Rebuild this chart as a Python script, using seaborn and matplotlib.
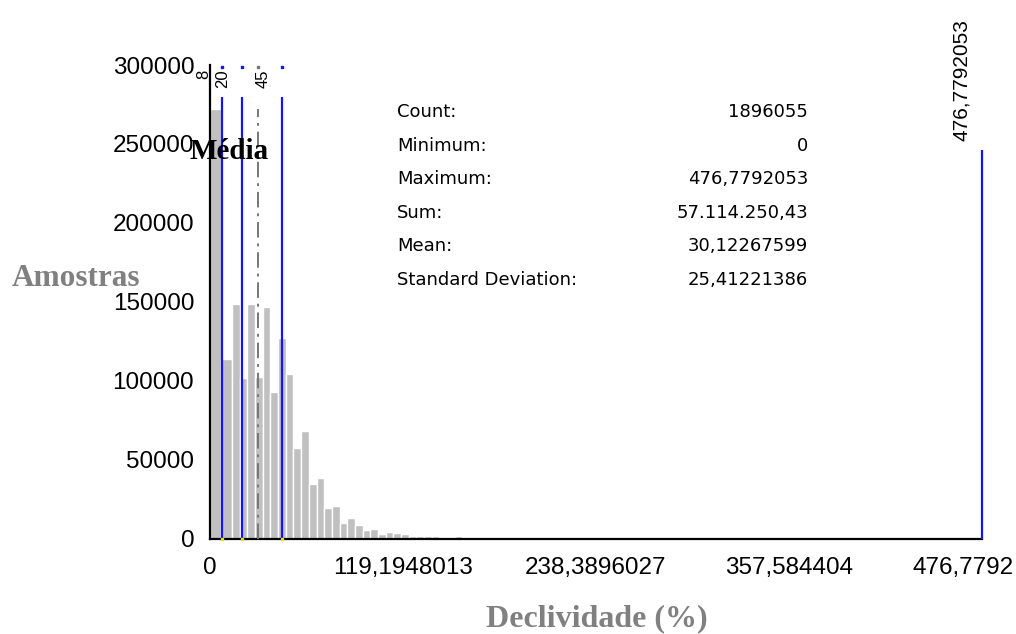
import numpy as np
import pandas as pd
import seaborn as sns
import matplotlib
matplotlib.use("Agg")
import matplotlib.pyplot as plt
from matplotlib.transforms import ScaledTranslation

# ---- histogram of slope values (Declividade, %) ----
# first two classes are wider, the rest use a constant class width
first_edges = [0.0, 7.0, 13.9]
class_width = 4.74
n_uniform = 30
counts = [272000, 113500, 148500, 101500, 148500, 102500, 147000, 93000,
          127000, 104000, 57500, 68300, 34600, 38600, 19600, 20800,
          9900, 13000, 8400, 5200, 5900, 2900, 4400, 3400,
          2900, 1600, 1600, 1900, 1900, 1300, 600, 1600]

# ---- reference lines ----
class_breaks = [8, 20, 45]
class_labels = ["8", "20", "45"]
mean_value = 30.12267599
max_value = 476.7792053
max_label = "476,7792053"

# ---- axis ticks ----
xtick_values = [0, 119.1948013, 238.3896027, 357.584404, 476.7792053]
xtick_labels = ["0", "119,1948013", "238,3896027", "357,584404", "476,7792"]
ytick_values = [0, 50000, 100000, 150000, 200000, 250000, 300000]
ytick_labels = ["0", "50000", "100000", "150000", "200000", "250000", "300000"]

# ---- statistics panel ----
stat_names = ["Count:", "Minimum:", "Maximum:", "Sum:", "Mean:", "Standard Deviation:"]
stat_values = ["1896055", "0", "476,7792053", "57.114.250,43", "30,12267599", "25,41221386"]

edges = first_edges + [first_edges[-1] + class_width * k for k in range(1, n_uniform + 1)]
centers = [(a + b) / 2 for a, b in zip(edges[:-1], edges[1:])]
df = pd.DataFrame({"declividade": centers, "amostras": counts})

sns.set_theme(style="white")
plt.rcParams["font.family"] = ["Liberation Sans", "DejaVu Sans"]

W, H = 1016, 634
fig = plt.figure(figsize=(W / 100, H / 100), dpi=100)
x0, x1, y0, y1 = 209.5, 982.0, 538.6, 65.0
ax = fig.add_axes([x0 / W, 1 - y0 / H, (x1 - x0) / W, (y0 - y1) / H])

sns.histplot(data=df, x="declividade", weights="amostras", bins=edges,
             color="#c0c0c0", edgecolor="white", linewidth=1.0, alpha=1.0, ax=ax)

ax.set_xlim(0, max_value)
ax.set_ylim(0, 300000)

# class break lines (blue), mean (grey dash-dot), maximum (blue)
ax.vlines(class_breaks, 0, 280000, colors="#1414ff", linewidth=1.6, zorder=3)
ax.plot([mean_value, mean_value], [0, 272000], color="#777777", linewidth=1.4,
        dashes=(8, 3, 1.5, 3), zorder=3)
ax.vlines([max_value], 0, 246000, colors="#1414ff", linewidth=1.6, zorder=3, clip_on=False)

# small markers at the ends of the lines
ax.plot(class_breaks, [298500] * 3, ls="none", marker="s", ms=2, color="#1414ff", clip_on=False, zorder=4)
ax.plot([mean_value], [298500], ls="none", marker="s", ms=2, color="#777777", clip_on=False, zorder=4)
ax.plot(class_breaks, [0] * 3, ls="none", marker="s", ms=2, color="#e8e000", clip_on=False, zorder=5)

shift = ax.transData + ScaledTranslation(-19 / 100, 0, fig.dpi_scale_trans)
for v, lbl in zip(class_breaks, class_labels):
    ax.text(v, 297000, lbl, rotation=90, ha="center", va="top", fontsize=12,
            color="black", transform=shift, clip_on=False)
ax.text(max_value, 252000, max_label, rotation=90, ha="center", va="bottom", fontsize=15,
        color="black", transform=ax.transData + ScaledTranslation(-21 / 100, 0, fig.dpi_scale_trans),
        clip_on=False)

# axes styling
ax.set_xticks(xtick_values)
ax.set_xticklabels(xtick_labels)
ax.set_yticks(ytick_values)
ax.set_yticklabels(ytick_labels)
ax.set_xlabel("")
ax.set_ylabel("")
for side in ["top", "right"]:
    ax.spines[side].set_visible(False)
for side in ["left", "bottom"]:
    ax.spines[side].set_color("black")
    ax.spines[side].set_linewidth(1.6)
ax.tick_params(axis="y", direction="inout", length=14, width=1.5, colors="black",
               labelsize=17.5, pad=4)
ax.tick_params(axis="x", direction="out", length=11, width=1.5, colors="black",
               labelsize=17.5, pad=2)
ax.set_facecolor("white")

# the last x label sits against the right edge of the figure
last = ax.get_xticklabels()[-1]
last.set_horizontalalignment("right")
last.set_transform(last.get_transform() + ScaledTranslation(32 / 100, 0, fig.dpi_scale_trans))

# statistics panel
for i, (name, val) in enumerate(zip(stat_names, stat_values)):
    yy = 1 - (112 + 33.6 * i) / H
    fig.text(397 / W, yy, name, ha="left", va="center", fontsize=13,
             family="DejaVu Sans", color="black")
    fig.text(808 / W, yy, val, ha="right", va="center", fontsize=13,
             family="DejaVu Sans", color="black")

# titles drawn in bold serif
fig.text(190 / W, 1 - 159 / H, "Média", ha="left", va="baseline", fontsize=21,
         family="Liberation Serif", weight="bold", color="black")
fig.text(12 / W, 1 - 286 / H, "Amostras", ha="left", va="baseline", fontsize=22.5,
         family="Liberation Serif", weight="bold", color="#808080")
fig.text(597 / W, 1 - 626 / H, "Declividade (%)", ha="center", va="baseline", fontsize=23,
         family="Liberation Serif", weight="bold", color="#808080")

fig.savefig("out.png", dpi=100, facecolor="white")
